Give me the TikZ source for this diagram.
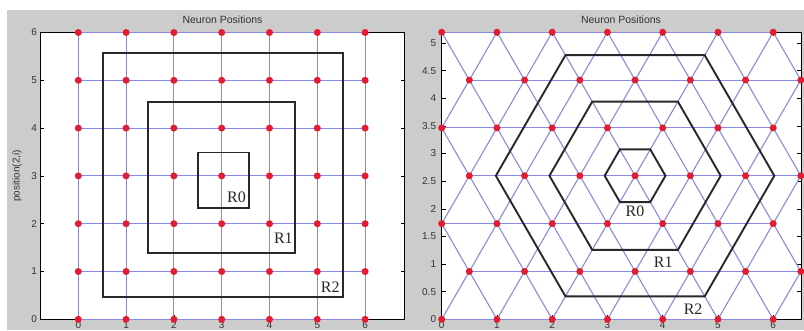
\documentclass[tikz,border=0pt]{standalone}
\usepackage{fontspec}
\setmainfont{Liberation Sans}
\newfontfamily\rfont{Liberation Serif}
\usepackage{tikz}
\usetikzlibrary{calc}
\definecolor{somGray}{RGB}{204,204,204}
\definecolor{somBlue}{RGB}{138,138,226}
\definecolor{somRed}{RGB}{228,28,48}
\definecolor{somDark}{RGB}{40,40,40}

\begin{document}
\begin{tikzpicture}[x=1pt, y=1pt,
  link/.style={somBlue, line width=1.1pt},
  neuron/.style={circle, fill=somRed, inner sep=0pt, minimum size=7pt},
  region/.style={somDark, line width=1.9pt},
  axbox/.style={draw=black, line width=0.6pt, fill=white},
  tk/.style={black, line width=0.5pt},
  tlab/.style={font=\fontsize{10}{12}\selectfont, text=black!80, inner sep=1pt},
  xlab/.style={tlab, inner sep=0pt, anchor=north},
  rlab/.style={font=\rfont\fontsize{16}{18}\selectfont, text=somDark}
]
  \useasboundingbox (0,0) rectangle (804,330);
  \fill[somGray] (7,0) rectangle (804,320);

  \node[font=\fontsize{10.5}{12}\selectfont, text=black!80] (ttlL) at (222.5,310) {Neuron Positions};
  \node[font=\fontsize{10.5}{12}\selectfont, text=black!80] (ttlR) at (621,310) {Neuron Positions};

  % left map: square grid
  \begin{scope}[shift={(78.3,10.7)}, x=47.8pt, y=47.8pt]
    \filldraw[axbox] (-0.8,0) rectangle (6.83,6);
    \foreach \t in {0,...,6} {
      \draw[tk] (\t,0) -- ++(0,4pt);
      \draw[tk] (\t,6) -- ++(0,-4pt);
      \draw[tk] (-0.8,\t) -- ++(4pt,0);
      \draw[tk] (6.83,\t) -- ++(-4pt,0);
      \node[tlab, anchor=east] (ly\t) at (-0.84,\t) {\t};
      \node[xlab] (lx\t) at (\t,-0.045) {\t};
    }
    \node[tlab, rotate=90] (ylab) at (-1.28,3) {position(2,i)};

    \foreach \i in {0,...,6}
      \foreach \j in {0,...,6}
        \coordinate (sq\i\j) at (\i,\j);
    \foreach \i in {0,...,6} {
      \draw[link] (sq\i0) -- (sq\i6);
      \draw[link] (sq0\i) -- (sq6\i);
    }

    \draw[region] (2.51,2.32) rectangle (3.57,3.49);
    \draw[region] (1.46,1.39) rectangle (4.54,4.54);
    \draw[region] (0.52,0.47) rectangle (5.54,5.58);

    \foreach \i in {0,...,6}
      \foreach \j in {0,...,6}
        \node[neuron] (nsq\i\j) at (sq\i\j) {};

    \node[rlab] (rsq0) at (3.31,2.56) {R0};
    \node[rlab] (rsq1) at (4.29,1.69) {R1};
    \node[rlab] (rsq2) at (5.27,0.68) {R2};
  \end{scope}

  % right map: hexagonal grid
  \begin{scope}[shift={(441.7,10.7)}, x=55.25pt, y=55.25pt]
    \filldraw[axbox] (0,0) rectangle (6.5,5.196);
    \foreach \t in {0,...,6} {
      \draw[tk] (\t,0) -- ++(0,4pt);
      \draw[tk] (\t,5.196) -- ++(0,-4pt);
      \node[xlab] (hxl\t) at (\t,-0.039) {\t};
    }
    \foreach \t [count=\c] in {0,0.5,1,1.5,2,2.5,3,3.5,4,4.5,5} {
      \draw[tk] (0,\t) -- ++(4pt,0);
      \draw[tk] (6.5,\t) -- ++(-4pt,0);
      \node[tlab, anchor=east] (hyl\c) at (-0.08,\t) {\t};
    }

    \foreach \r in {0,...,6}
      \foreach \k in {0,...,6} {
        \pgfmathsetmacro\hxx{\k+0.5*mod(\r,2)}
        \coordinate (hx\r\k) at (\hxx,0.866*\r);
      }
    \foreach \r in {0,...,6}
      \draw[link] (hx\r0) -- (hx\r6);
    \foreach \r/\s in {0/1,2/3,4/5} {
      \foreach \k in {0,...,6}
        \draw[link] (hx\r\k) -- (hx\s\k);
      \foreach \k/\m in {1/0,2/1,3/2,4/3,5/4,6/5}
        \draw[link] (hx\r\k) -- (hx\s\m);
    }
    \foreach \r/\s in {1/2,3/4,5/6} {
      \foreach \k in {0,...,6}
        \draw[link] (hx\r\k) -- (hx\s\k);
      \foreach \k/\m in {0/1,1/2,2/3,3/4,4/5,5/6}
        \draw[link] (hx\r\k) -- (hx\s\m);
    }

    \foreach \rad in {0.55,1.55,2.52}
      \draw[region] (hx33) ++(0:\rad) -- ++(120:\rad) -- ++(180:\rad)
        -- ++(240:\rad) -- ++(300:\rad) -- ++(0:\rad) -- cycle;

    \foreach \r in {0,...,6}
      \foreach \k in {0,...,6}
        \node[neuron] (nhx\r\k) at (hx\r\k) {};

    \node[rlab] (rhx0) at (3.5,1.95) {R0};
    \node[rlab] (rhx1) at (4.01,1.04) {R1};
    \node[rlab] (rhx2) at (4.55,0.19) {R2};
  \end{scope}
\end{tikzpicture}
\end{document}
